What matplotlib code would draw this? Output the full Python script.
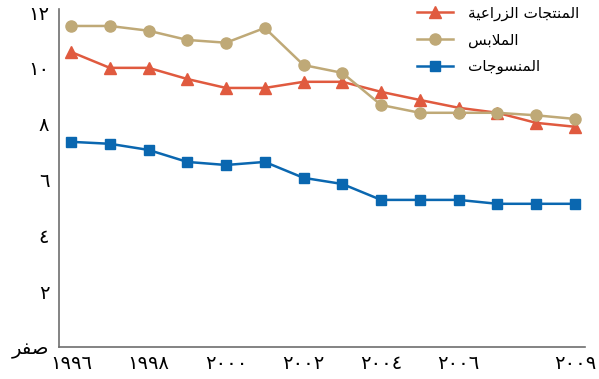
import matplotlib
matplotlib.use('Agg')
import matplotlib.pyplot as plt

# Data
years = [1996, 1997, 1998, 1999, 2000, 2001, 2002, 2003, 2004, 2005, 2006, 2007, 2008, 2009]
agri = [10.57, 10.0, 10.0, 9.6, 9.28, 9.28, 9.5, 9.5, 9.14, 8.85, 8.57, 8.39, 8.03, 7.89]
clothing = [11.5, 11.5, 11.33, 11.0, 10.9, 11.43, 10.1, 9.82, 8.67, 8.39, 8.39, 8.39, 8.3, 8.17]
textiles = [7.35, 7.28, 7.06, 6.63, 6.52, 6.63, 6.06, 5.84, 5.27, 5.27, 5.27, 5.13, 5.13, 5.13]

xtick_years = [1996, 1998, 2000, 2002, 2004, 2006, 2009]
ytick_vals = [0, 2, 4, 6, 8, 10, 12]
series_names = ['المنتجات الزراعية', 'الملابس', 'المنسوجات']

# minimal Arabic shaping: matplotlib has no bidi / joining support
FORMS = {
    'ا': ('\uFE8D', '\uFE8E'), 'ز': ('\uFEAF', '\uFEB0'), 'ر': ('\uFEAD', '\uFEAE'),
    'ة': ('\uFE93', '\uFE94'), 'و': ('\uFEED', '\uFEEE'),
    'ل': ('\uFEDD', '\uFEDE', '\uFEDF', '\uFEE0'), 'م': ('\uFEE1', '\uFEE2', '\uFEE3', '\uFEE4'),
    'ن': ('\uFEE5', '\uFEE6', '\uFEE7', '\uFEE8'), 'ت': ('\uFE95', '\uFE96', '\uFE97', '\uFE98'),
    'ج': ('\uFE9D', '\uFE9E', '\uFE9F', '\uFEA0'), 'ع': ('\uFEC9', '\uFECA', '\uFECB', '\uFECC'),
    'ي': ('\uFEF1', '\uFEF2', '\uFEF3', '\uFEF4'), 'ب': ('\uFE8F', '\uFE90', '\uFE91', '\uFE92'),
    'س': ('\uFEB1', '\uFEB2', '\uFEB3', '\uFEB4'), 'ص': ('\uFEB9', '\uFEBA', '\uFEBB', '\uFEBC'),
    'ف': ('\uFED1', '\uFED2', '\uFED3', '\uFED4'),
}


def dual(c):
    return c in FORMS and len(FORMS[c]) == 4


def shape(text):
    out = []
    i = 0
    n = len(text)
    while i < n:
        c = text[i]
        prev = text[i - 1] if i > 0 else ''
        joined_prev = dual(prev)
        if c == 'ل' and i + 1 < n and text[i + 1] == 'ا':
            out.append('\uFEFC' if joined_prev else '\uFEFB')
            i += 2
            continue
        if c not in FORMS:
            out.append(c)
            i += 1
            continue
        nxt = text[i + 1] if i + 1 < n else ''
        joins_next = dual(c) and nxt in FORMS
        f = FORMS[c]
        if joined_prev and joins_next:
            out.append(f[3])
        elif joined_prev:
            out.append(f[1])
        elif joins_next:
            out.append(f[2])
        else:
            out.append(f[0])
        i += 1
    return ''.join(out)[::-1]


def arabic_digits(v):
    return ''.join(chr(0x0660 + int(d)) for d in str(v))


plt.rcParams['font.family'] = ['DejaVu Sans']

fig = plt.figure(figsize=(5.99, 3.79), dpi=100)
ax = fig.add_axes([0.0985, 0.0844, 0.878, 0.892])

ax.plot(years, agri, color='#e05a3f', lw=1.8, marker='^', ms=8, label=shape(series_names[0]))
ax.plot(years, clothing, color='#bfa977', lw=1.8, marker='o', ms=8, label=shape(series_names[1]))
ax.plot(years, textiles, color='#0a67b0', lw=1.8, marker='s', ms=7.5, label=shape(series_names[2]))

ax.set_xlim(1995.69, 2009.26)
ax.set_ylim(0, 12.11)

ax.set_xticks(xtick_years)
ax.set_xticklabels([arabic_digits(y) for y in xtick_years], fontsize=14)
ax.set_yticks(ytick_vals)
ax.set_yticklabels([shape('صفر')] + [arabic_digits(v) for v in ytick_vals[1:]], fontsize=14)
ax.tick_params(axis='x', length=0, pad=5)
ax.tick_params(axis='y', length=0, pad=7)

for s in ['top', 'right']:
    ax.spines[s].set_visible(False)
for s in ['left', 'bottom']:
    ax.spines[s].set_color('#6e6e6e')
    ax.spines[s].set_linewidth(1.2)

ax.legend(loc='upper right', bbox_to_anchor=(1.015, 1.05), frameon=False, fontsize=11,
          handlelength=2.3, handletextpad=1.0, labelspacing=0.75)

plt.savefig('out.png', dpi=100)
